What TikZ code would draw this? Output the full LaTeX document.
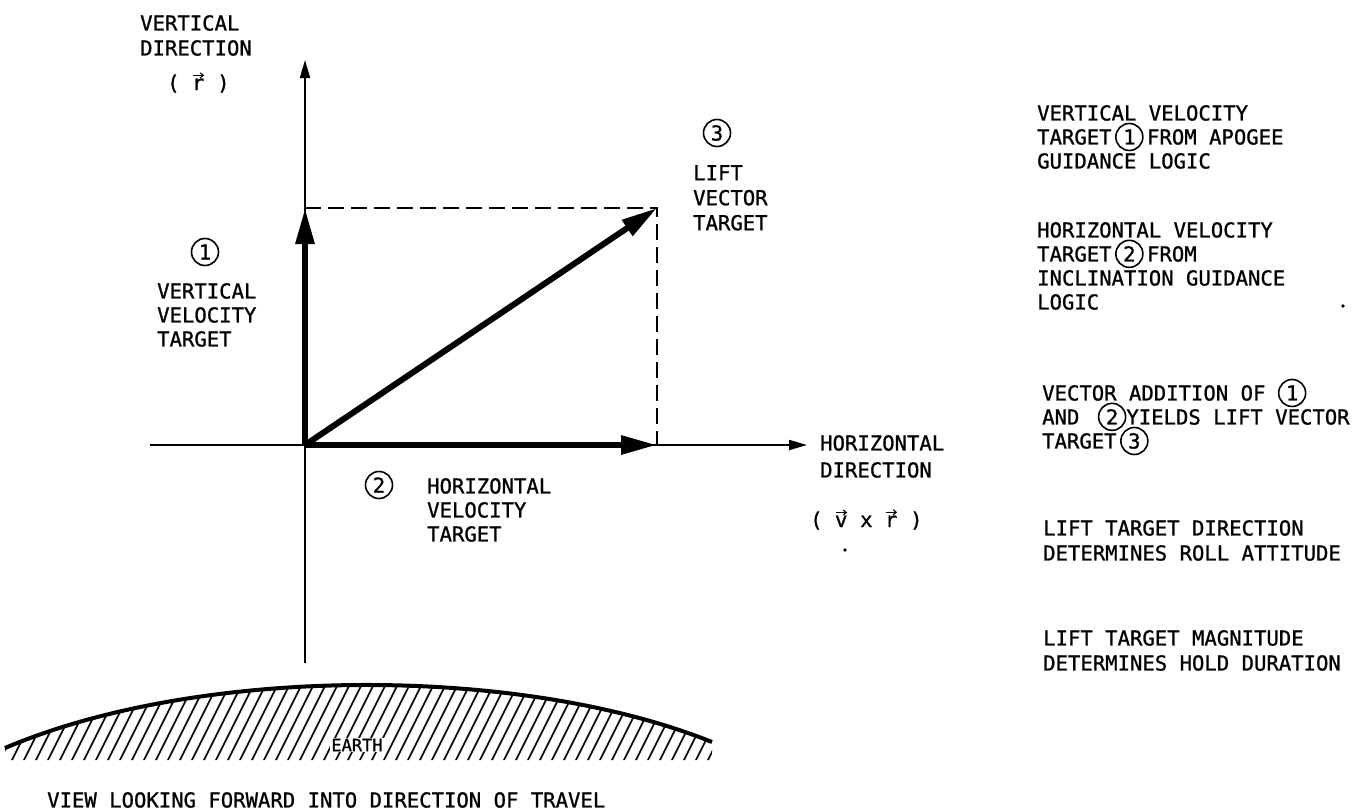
\documentclass[tikz,border=0pt]{standalone}
\usepackage{fontspec}
\setmainfont{DejaVu Sans Mono}[FakeBold=1]
\usetikzlibrary{arrows.meta}
\newcommand\cnum[2]{\smash{\tikz[baseline=(#1.base)]\node[numcirc,anchor=center](#1){#2};}}
\newcommand\vecl[1]{\tikz[baseline=(vv.base)]{\node[inner sep=0pt,anchor=base](vv){#1};\draw[line width=1.1pt,-{Straight Barb[length=3pt,width=5pt]}] ([yshift=3pt,xshift=1pt]vv.north west) -- ([yshift=3pt,xshift=-0.5pt]vv.north east);}}
\tikzset{
  numcirc/.style={circle,draw,line width=1.6pt,inner sep=0pt,minimum size=27pt},
  lbl/.style={anchor=north west,inner sep=0pt,align=left},
  lblb/.style={anchor=base west,inner sep=0pt},
  axisline/.style={line width=2pt,-{Triangle[length=18pt,width=10pt]}},
  vecarrow/.style={line width=6pt,-{Triangle[length=36pt,width=18pt]}},
  guide/.style={line width=2pt,dash pattern=on 16pt off 7pt},
  hatchline/.style={line width=1.7pt},
  earthrim/.style={line width=4pt},
}
\begin{document}
\begin{tikzpicture}[x=1pt,y=-1pt,font=\fontsize{20.6}{24}\selectfont]
\useasboundingbox (0,0) rectangle (1357,811);

% coordinates
\coordinate (O) at (305,445);
\coordinate (Vtop) at (305,60);
\coordinate (Vbot) at (305,663);
\coordinate (Hl) at (150,445);
\coordinate (Hr) at (807,445);
\coordinate (A1) at (305,208);
\coordinate (A2) at (657,445);
\coordinate (A3) at (657,208);

% axes
\draw[line width=2pt] (Vbot) -- (O);
\draw[axisline] (O) -- (Vtop);
\draw[line width=2pt] (Hl) -- (O);
\draw[axisline] (O) -- (Hr);

% dashed guides
\draw[guide] (A1) -- (A3) -- (A2);

% vectors
\draw[vecarrow] (O) -- (A1);
\draw[vecarrow] (O) -- (A2);
\draw[vecarrow] (O) -- (A3);

% axis labels
\node[lbl,font=\fontsize{20.6}{25}\selectfont] (vdir) at (140,15) {VERTICAL\\DIRECTION};
\node[lblb] (vdirr) at (167,90) {( \vecl{r} )};
\node[lbl,font=\fontsize{20.6}{27}\selectfont] (hdir) at (820,435) {HORIZONTAL\\DIRECTION};
\node[lblb] (hdirv) at (810,527) {( \vecl{v} x \vecl{r} )};
\fill (845,550) circle (1.8);

% vector labels
\node[numcirc] (n1) at (205,252) {1};
\node[lbl] (vvt) at (157,283) {VERTICAL\\VELOCITY\\TARGET};
\node[numcirc] (n3) at (717,133) {3};
\node[lbl,font=\fontsize{20.6}{25}\selectfont] (lvt) at (693,165) {LIFT\\VECTOR\\TARGET};
\node[numcirc] (n2) at (379,485) {2};
\node[lbl] (hvt) at (427,478) {HORIZONTAL\\VELOCITY\\TARGET};

% right-hand notes
\node[lbl] (t1) at (1037,105) {VERTICAL VELOCITY\\TARGET\,\cnum{ca}{1}\,FROM APOGEE\\GUIDANCE LOGIC};
\node[lbl] (t2) at (1037,222) {HORIZONTAL VELOCITY\\TARGET\,\cnum{cb}{2}\,FROM\\INCLINATION GUIDANCE\\LOGIC};
\fill (1343,306) circle (1.8);
\node[lbl] (t3) at (1042,385) {VECTOR ADDITION OF \cnum{cc}{1}\\AND \hspace{6pt}\cnum{cd}{2}YIELDS LIFT VECTOR\\TARGET\,\cnum{ce}{3}};
\node[lbl,font=\fontsize{20.6}{25}\selectfont] (t4) at (1043,520) {LIFT TARGET DIRECTION\\DETERMINES ROLL ATTITUDE};
\node[lbl,font=\fontsize{20.6}{25}\selectfont] (t5) at (1043,630) {LIFT TARGET MAGNITUDE\\DETERMINES HOLD DURATION};

% earth
\coordinate (E1) at (5,748);
\coordinate (E2) at (712,742);
\begin{scope}
  \clip (E1) .. controls (200,665) and (520,665) .. (E2) -- (712,760) -- (5,760) -- cycle;
  \foreach \i in {-50,-38,...,720} \draw[hatchline] (\i,764) -- ++(42,-84);
\end{scope}
\draw[earthrim] (E1) .. controls (200,665) and (520,665) .. (E2);
\node[fill=white,inner sep=1pt,font=\fontsize{17}{20}\selectfont] (earth) at (357,745) {EARTH};

\node[lbl] (cap) at (47,792) {VIEW LOOKING FORWARD INTO DIRECTION OF TRAVEL};
\end{tikzpicture}
\end{document}
